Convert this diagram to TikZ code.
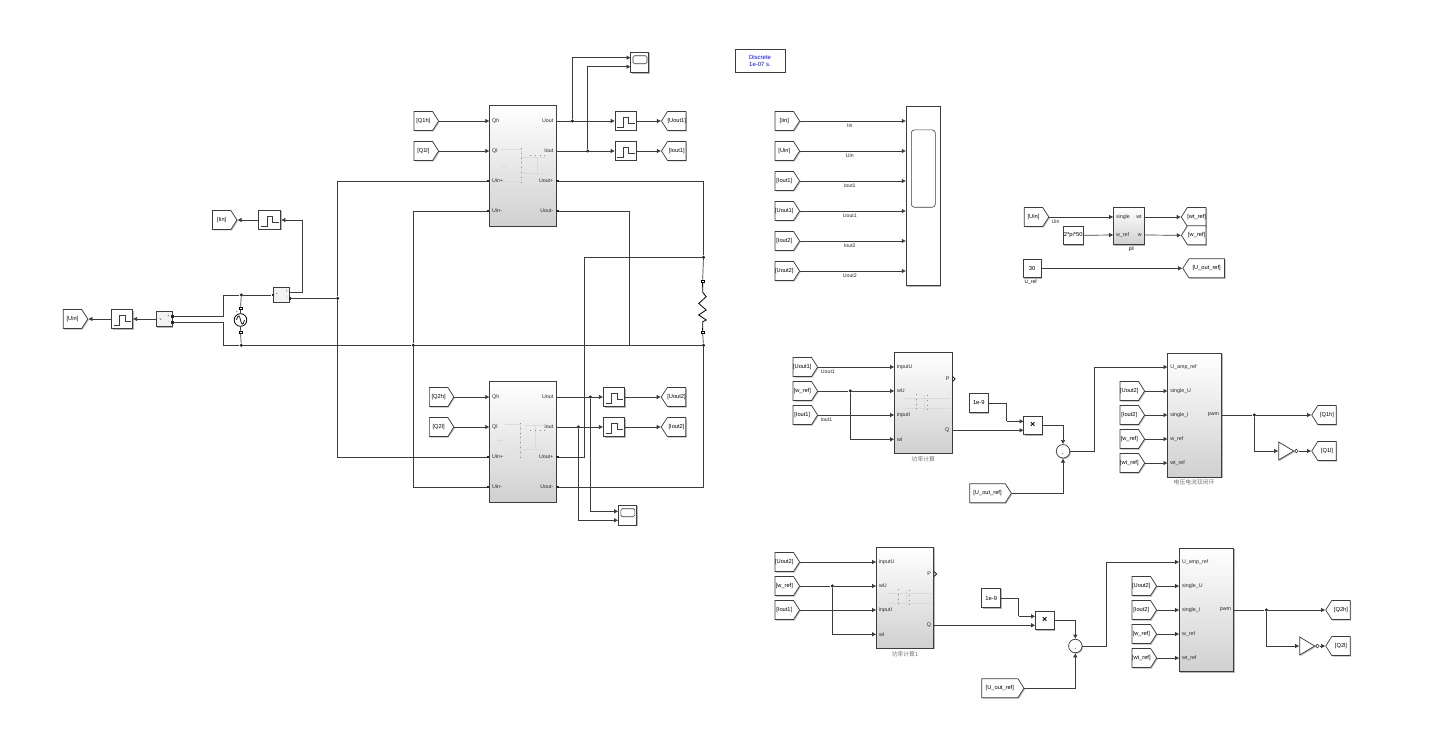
\documentclass[tikz,border=0pt]{standalone}
\usepackage{fontspec}
\setmainfont{Liberation Sans}
\newfontfamily\cjkfont{Noto Sans CJK SC}
\usepackage{tikz}
\usetikzlibrary{arrows.meta,shapes.geometric,shapes.symbols,positioning,calc,shadows}
\definecolor{linecolor}{RGB}{60,60,60}
\definecolor{boxshade}{RGB}{208,208,208}
\tikzset{
  softshadow/.style={drop shadow={shadow xshift=1pt, shadow yshift=-1pt, fill=black!40, opacity=.7}},
  subsys/.style={rectangle, draw=linecolor, line width=.8pt, top color=white, middle color=white, bottom color=boxshade, inner sep=0pt, softshadow},
  plainblk/.style={rectangle, draw=linecolor, line width=.7pt, fill=white, inner sep=0pt, font=\fontsize{5.8}{6.8}\selectfont, softshadow},
  zoh/.style={plainblk, minimum width=21pt, minimum height=19pt, path picture={
    \draw[line width=.7pt, linecolor] ([shift={(-8.5,6.2)}]path picture bounding box.center) -- ++(5.7,0) -- ++(0,-10) -- ++(5.7,0) -- ++(0,6) -- ++(6,0);}},
  screen/.style={rectangle, rounded corners=1.5pt, draw=linecolor, line width=.6pt, fill=white, inner sep=0pt},
  fromtag/.style={signal, signal to=east, signal from=nowhere, signal pointer angle=115, draw=linecolor, line width=.7pt, fill=white,
    minimum height=19pt, minimum width=24.5pt, inner xsep=0pt, inner ysep=0pt, font=\fontsize{5.7}{6.5}\selectfont, softshadow},
  gototag/.style={fromtag, signal to=west},
  pinl/.style={anchor=west, inner xsep=2.5pt, inner ysep=0pt, text=black!85, font=\fontsize{5.3}{6}\selectfont},
  pinr/.style={anchor=east, inner xsep=2.5pt, inner ysep=0pt, text=black!85, font=\fontsize{5.3}{6}\selectfont},
  sglbl/.style={below=2.2pt, inner sep=0pt, text=black!85, font=\fontsize{5.2}{6}\selectfont},
  cjklbl/.style={inner sep=0pt, text=black!55, font=\cjkfont\fontsize{5.8}{6.5}\selectfont},
  mini/.style={inner sep=0pt, text=black!80, font=\fontsize{3.8}{4}\selectfont},
  dotj/.style={circle, fill=black!85, inner sep=0pt, minimum size=3.4pt},
  psq/.style={rectangle, fill=black!85, inner sep=0pt, minimum size=2.6pt},
  opensq/.style={rectangle, draw=black, line width=.6pt, fill=white, inner sep=0pt, minimum size=2.6pt},
  sumblk/.style={circle, draw=linecolor, line width=.7pt, fill=white, inner sep=0pt, minimum size=13.5pt, softshadow},
  notgate/.style={isosceles triangle, isosceles triangle apex angle=63, draw=linecolor, line width=.7pt, fill=white, inner sep=0pt, minimum height=15pt, minimum width=18pt, isosceles triangle stretches, anchor=lower side, softshadow},
  bubble/.style={circle, draw=linecolor, line width=.6pt, fill=white, inner sep=0pt, minimum size=3.6pt},
  myarrow/.style={-{Latex[length=4.2pt,width=4.6pt]}, line width=.7pt, linecolor},
  wire/.style={line width=.7pt, linecolor},
  ghost/.style={line width=.3pt, black!14},
  ghostdot/.style={line width=.6pt, black!45, dash pattern=on .8pt off 4pt},
}

\begin{document}
\begin{tikzpicture}[x=1pt, y=-1pt]
\useasboundingbox (0,0) rectangle (1429,735);

% upper converter
\node[subsys, minimum width=66.5pt, minimum height=120.5pt] (conv1) at (522.7,165.7) {};
\node[pinl] (c1Qh) at (489.5,121) {Qh};
\node[pinl] (c1Ql) at (489.5,151) {Ql};
\node[pinl] (c1Uinp) at (489.5,181) {Uin+};
\node[pinl] (c1Uinm) at (489.5,211) {Uin-};
\node[pinr] (c1Uout) at (556,121) {Uout};
\node[pinr] (c1Iout) at (556,151) {Iout};
\node[pinr] (c1Uoutp) at (556,181) {Uout+};
\node[pinr] (c1Uoutm) at (556,211) {Uout-};
\draw[ghost] (501,149)--(521,149) (521,149)--(521,183) (501,166)--(507,166) (521,157)--(546,157) (537,157)--(537,176) (521,173)--(546,173) (501,181)--(521,181);
\draw[ghostdot] (521,148)--(521,184) (530,155)--(548,155);

\node[fromtag, left=50.5pt of c1Qh.west] (fQ1h) {[Q1h]};
\node[fromtag, left=50.5pt of c1Ql.west] (fQ1l) {[Q1l]};
\node[zoh] (zohU1) at (625.7,121) {};
\node[zoh] (zohI1) at (625.7,151) {};
\node[gototag, right=24.5pt of zohU1] (gU1) {[Uout1]};
\node[gototag, right=24.5pt of zohI1] (gI1) {[Iout1]};
\node[plainblk, minimum width=18pt, minimum height=20.4pt] (scope1) at (639.7,62.5) {};
\node[screen, minimum width=14pt, minimum height=8pt] (scr1) at (640,59.8) {};
\coordinate (sc1a) at (630.7,57.7);
\coordinate (sc1b) at (630.7,66.7);
\node[dotj] (jU1) at (572.3,121) {};
\node[dotj] (jI1) at (587.7,151) {};

% lower converter
\node[subsys, minimum width=66.5pt, minimum height=121pt] (conv2) at (522.7,441.8) {};
\node[pinl] (c2Qh) at (489.5,397) {Qh};
\node[pinl] (c2Ql) at (489.5,427) {Ql};
\node[pinl] (c2Uinp) at (489.5,457) {Uin+};
\node[pinl] (c2Uinm) at (489.5,487) {Uin-};
\node[pinr] (c2Uout) at (556,397) {Uout};
\node[pinr] (c2Iout) at (556,427) {Iout};
\node[pinr] (c2Uoutp) at (556,457) {Uout+};
\node[pinr] (c2Uoutm) at (556,487) {Uout-};
\draw[ghost] (505,424)--(520,424) (520,424)--(520,459) (497,440)--(503,440) (525,425)--(545,425) (535,425)--(535,448) (515,449)--(545,449);
\draw[ghostdot] (520,423)--(520,460) (530,430)--(546,430);

\node[fromtag, left=35.2pt of c2Qh.west] (fQ2h) {[Q2h]};
\node[fromtag, left=35.2pt of c2Ql.west] (fQ2l) {[Q2l]};
\node[zoh] (zohU2) at (614,397) {};
\node[zoh] (zohI2) at (614,427) {};
\node[gototag, right=36pt of zohU2] (gU2) {[Uout2]};
\node[gototag, right=36pt of zohI2] (gI2) {[Iout2]};
\node[plainblk, minimum width=18.4pt, minimum height=20pt] (scope2) at (627.5,515.3) {};
\node[screen, minimum width=14pt, minimum height=8pt] (scr2) at (627.8,512.7) {};
\coordinate (sc2a) at (618.3,511.3);
\coordinate (sc2b) at (618.3,520.3);
\node[dotj] (jU2) at (590.3,397) {};
\node[dotj] (jI2) at (578.3,427) {};

\draw[myarrow] (fQ1h.east) -- (c1Qh.west);
\draw[myarrow] (fQ1l.east) -- (c1Ql.west);
\draw[myarrow] (fQ2h.east) -- (c2Qh.west);
\draw[myarrow] (fQ2l.east) -- (c2Ql.west);
\draw[myarrow] (c1Uout.east) -- (zohU1.west);
\draw[myarrow] (c1Iout.east) -- (zohI1.west);
\draw[myarrow] (zohU1.east) -- (gU1.west);
\draw[myarrow] (zohI1.east) -- (gI1.west);
\draw[myarrow] (jU1) |- (sc1a);
\draw[myarrow] (jI1) |- (sc1b);
\draw[myarrow] (c2Uout.east) -- (zohU2.west);
\draw[myarrow] (c2Iout.east) -- (zohI2.west);
\draw[myarrow] (zohU2.east) -- (gU2.west);
\draw[myarrow] (zohI2.east) -- (gI2.west);
\draw[myarrow] (jU2) |- (sc2a);
\draw[myarrow] (jI2) |- (sc2b);

% power stage
\node[psq] (pUinp1) at (488,181) {};
\node[psq] (pUinm1) at (488,211) {};
\node[psq] (pUoutp1) at (557.3,181) {};
\node[psq] (pUoutm1) at (557.3,211) {};
\node[psq] (pUinp2) at (488,457) {};
\node[psq] (pUinm2) at (488,487) {};
\node[psq] (pUoutp2) at (557.3,457) {};
\node[psq] (pUoutm2) at (557.3,487) {};
\node[dotj] (jA) at (337.7,298.3) {};
\node[dotj] (jB) at (413.3,345.3) {};
\node[dotj] (jD) at (703.5,257.3) {};
\node[dotj] (jE) at (703.5,345.3) {};
\node[dotj] (jG) at (241.3,295) {};
\node[dotj] (jH) at (241.3,345.3) {};
\coordinate (cU1) at (629.5,345.3);
\coordinate (cU2) at (584.5,257.3);
\coordinate (cSrcT) at (223.3,295);
\coordinate (cSrcB) at (223.3,345.3);

% source and measurements
\node[circle, draw=black, line width=.8pt, fill=white, inner sep=0pt, minimum size=12.6pt, path picture={
  \draw[line width=.7pt] ([xshift=-4pt]path picture bounding box.center) .. controls +(1.5,-6) and +(-1,-5) .. ([xshift=0pt]path picture bounding box.center) .. controls +(1,5) and +(-1.5,6) .. ([xshift=4pt]path picture bounding box.center);}] (acsrc) at (240.5,320) {};
\node[opensq] (srcT) at (240.5,308.3) {};
\node[opensq] (srcB) at (240.5,332.3) {};
\node[mini] (srcPlus) at (237,312) {+};
\node[plainblk, fill=black!5, minimum width=15.7pt, minimum height=15pt] (cmeas) at (281.2,294.8) {};
\node[mini] (cmP) at (277,294.8) {+};
\node[mini] (cmI) at (286.7,291.6) {i};
\node[mini] (cmN) at (286.7,297.8) {-};
\node[plainblk, fill=black!5, minimum width=15.7pt, minimum height=15.4pt] (vmeas) at (164.2,319) {};
\node[mini] (vmV) at (160.5,319.5) {v};
\node[mini] (vmP) at (168.5,316) {+};
\node[mini] (vmN) at (168.5,322) {-};
\node[psq] (cmL) at (272.8,295) {};
\node[psq] (cmR) at (289.8,298.3) {};
\node[psq] (vmA) at (172.4,316.3) {};
\node[psq] (vmB) at (172.4,322.3) {};
\coordinate (cmOut) at (289,292.3);
\coordinate (cIin) at (302.3,220);
\node[zoh, minimum width=22pt] (zohIin) at (269.7,220) {};
\node[gototag, signal to=east, left=21pt of zohIin] (gIin) {[Iin]};
\node[zoh] (zohUin) at (122,319) {};
\node[gototag, signal to=east, left=23pt of zohUin] (gUin) {[Uin]};

\draw[wire] (pUinp1) -| (jA);
\draw[wire] (jA) |- (pUinp2);
\draw[wire] (cmR) -- (jA);
\draw[wire] (pUinm1) -| (jB);
\draw[wire] (jB) |- (pUinm2);
\draw[wire] (pUoutp1) -| (jD);
\draw[wire] (pUoutm1) -| (cU1) -- (jE);
\draw[wire] (pUoutp2) -| (cU2) -- (jD);
\draw[wire] (pUoutm2) -| (jE);
\draw[wire] (vmA) -| (cSrcT) -- (jG) -- (cmL);
\draw[wire] (vmB) -| (cSrcB) -- (jH) -- (jB) -- (jE);
\draw[wire] (jG) -- (srcT) -- (acsrc) -- (srcB) -- (jH);
\draw[myarrow] (cmOut) -| (cIin) -- (zohIin.east);
\draw[myarrow] (zohIin.west) -- (gIin.east);
\draw[myarrow] (vmeas.west) -- (zohUin.east);
\draw[myarrow] (zohUin.west) -- (gUin.east);

% load
\node[opensq] (loadT) at (702.6,281.3) {};
\node[opensq] (loadB) at (702.6,332.3) {};
\node[circle, fill=red, inner sep=0pt, minimum size=1.2pt] (loadRed) at (702.6,286.7) {};
\draw[wire] (jD) -- (loadT);
\draw[wire] (loadB) -- (jE);
\draw[line width=.8pt, black] (loadT) -- (702.7,292.3) -- (706.2,296.7) -- (698.7,303.5) -- (706.2,310) -- (698.7,315) -- (706.2,320) -- (702.7,321.7) -- (loadB);

% solver block
\node[plainblk, minimum width=50pt, minimum height=23.5pt, align=center, text=blue, font=\fontsize{6}{7}\selectfont] (solver) at (760,60.7) {Discrete\\1e-07 s.};

% measurement scope
\node[plainblk, minimum width=33.7pt, minimum height=179.4pt] (bigscope) at (923.2,196) {};
\node[screen, rounded corners=3pt, minimum width=24pt, minimum height=77.3pt] (bigscr) at (923.3,168.6) {};
\node[fromtag] (fIin) at (784.3,121) {[Iin]};
\node[fromtag] (fUin) at (784.3,151) {[Uin]};
\node[fromtag] (fIout1) at (784.3,181) {[Iout1]};
\node[fromtag] (fUout1) at (784.3,211) {[Uout1]};
\node[fromtag] (fIout2) at (784.3,241) {[Iout2]};
\node[fromtag] (fUout2) at (784.3,271) {[Uout2]};
\draw[myarrow] (fIin.east) -- node[sglbl, pos=.47] (sIin) {Iin} (fIin.east -| bigscope.west);
\draw[myarrow] (fUin.east) -- node[sglbl, pos=.47] (sUin) {Uin} (fUin.east -| bigscope.west);
\draw[myarrow] (fIout1.east) -- node[sglbl, pos=.47] (sIout1) {Iout1} (fIout1.east -| bigscope.west);
\draw[myarrow] (fUout1.east) -- node[sglbl, pos=.47] (sUout1) {Uout1} (fUout1.east -| bigscope.west);
\draw[myarrow] (fIout2.east) -- node[sglbl, pos=.47] (sIout2) {Iout2} (fIout2.east -| bigscope.west);
\draw[myarrow] (fUout2.east) -- node[sglbl, pos=.47] (sUout2) {Uout2} (fUout2.east -| bigscope.west);

% pll and reference
\node[subsys, minimum width=31pt, minimum height=37pt] (pll) at (1128.8,226.2) {};
\node[pinl] (pllS) at (1113.3,217) {single};
\node[pinl] (pllW) at (1113.3,235) {w\_ref};
\node[pinr] (pllwt) at (1144.3,217) {wt};
\node[pinr] (pllw) at (1144.3,235) {w};
\node[inner sep=0pt, font=\fontsize{5}{6}\selectfont] (pllname) at (1131.3,249.6) {pll};
\node[fromtag] (fUinP) at (1033.5,217) {[Uin]};
\node[plainblk, minimum width=20pt, minimum height=18.7pt] (twopi) at (1073.3,235.3) {2*pi*50};
\node[gototag] (gwt) at (1196.7,217) {[wt\_ref]};
\node[gototag] (gw) at (1196.7,235.3) {[w\_ref]};
\node[plainblk, minimum width=17.7pt, minimum height=18.7pt] (urefc) at (1032.2,268.3) {30};
\node[inner sep=0pt, font=\fontsize{5}{6}\selectfont] (urefname) at (1030.7,282.6) {U\_ref};
\node[gototag, minimum width=41.7pt] (gUref) at (1206.7,268.3) {[U\_out\_ref]};
\draw[myarrow] (fUinP.east) -- node[sglbl, pos=.1] (sUinP) {Uin} (pllS.west);
\draw[myarrow] (twopi.east) -- (pllW.west);
\draw[myarrow] (pllwt.east) -- (gwt.west);
\draw[myarrow] (pllw.east) -- (gw.west);
\draw[myarrow] (urefc.east) -- (gUref.west);

% first power calculation and control loop
\node[subsys, minimum width=57.7pt, minimum height=101pt] (pow1) at (923.2,402.8) {};
\node[pinl] (p1a) at (894.3,367) {inputU};
\node[pinl] (p1b) at (894.3,391) {wU};
\node[pinl] (p1c) at (894.3,415) {inputI};
\node[pinl] (p1d) at (894.3,439.3) {wI};
\node[pinr] (p1P) at (952,379) {P};
\node[pinr] (p1Q) at (952,430.3) {Q};
\node[cjklbl] (pow1name) at (923.3,459) {功率计算};
\draw[line width=.7pt, black] (952.6,376.6) -- (955,379) -- (952.6,381.4);
\draw[ghost] (905,398)--(950,398) (905,408)--(950,408) (916,398)--(916,408) (924,395)--(924,411);
\draw[ghostdot] (916,394)--(916,412) (927,395)--(927,411);
\node[fromtag] (fU1a) at (802.3,367) {[Uout1]};
\node[fromtag] (fw1) at (802.3,391) {[w\_ref]};
\node[fromtag] (fI1a) at (802.3,415) {[Iout1]};
\node[dotj] (jw1) at (850.3,391) {};
\node[plainblk, minimum width=19pt, minimum height=19.4pt] (gain1) at (978.8,403) {1e-9};
\node[plainblk, minimum width=18.3pt, minimum height=18.7pt, font=\bfseries\fontsize{9}{9}\selectfont] (prod1) at (1032.8,425.3) {×};
\node[sumblk] (sum1) at (1063,451.3) {};
\node[mini] (sum1m) at (1063,448.4) {-};
\node[mini] (sum1p) at (1063,454.6) {+};
\node[fromtag, minimum width=41.6pt] (fUr1) at (987.5,493.2) {[U\_out\_ref]};
\coordinate (g1in) at (1023.7,421.3);
\coordinate (q1in) at (1023.7,430.3);
\coordinate (g1mid) at (1006.7,421.3);
\coordinate (s1up) at (1094.7,367);
\draw[myarrow] (fU1a.east) -- node[sglbl, pos=.13] (sU1a) {Uout1} (p1a.west);
\draw[wire] (fw1.east) -- (jw1);
\draw[myarrow] (jw1) -- (p1b.west);
\draw[myarrow] (fI1a.east) -- node[sglbl, pos=.11] (sI1a) {Iout1} (p1c.west);
\draw[myarrow] (jw1) |- (p1d.west);
\draw[wire] (gain1.east) -| (g1mid);
\draw[myarrow] (g1mid) -- (g1in);
\draw[myarrow] (p1Q.east) -- (q1in);
\draw[myarrow] (prod1.east) -| (sum1.north);
\draw[myarrow] (fUr1.east) -| (sum1.south);

\node[subsys, minimum width=54pt, minimum height=123.7pt] (loop1) at (1194.7,415.2) {};
\node[pinl] (l1a) at (1167.7,367) {U\_amp\_ref};
\node[pinl] (l1b) at (1167.7,391) {single\_U};
\node[pinl] (l1c) at (1167.7,415) {single\_I};
\node[pinl] (l1d) at (1167.7,439) {w\_ref};
\node[pinl] (l1e) at (1167.7,463) {wt\_ref};
\node[pinr] (l1p) at (1221.7,415) {pwm};
\node[cjklbl] (loop1name) at (1194,482) {电压电流双闭环};
\node[fromtag] (fU2b) at (1129.3,391) {[Uout2]};
\node[fromtag] (fI2b) at (1129.3,415) {[Iout2]};
\node[fromtag] (fw1b) at (1129.3,439) {[w\_ref]};
\node[fromtag] (fwt1) at (1129.3,463) {[wt\_ref]};
\node[dotj] (jp1) at (1254.3,415) {};
\node[notgate] (not1) at (1278.3,451) {};
\node[bubble, right=0pt of not1.apex] (bub1) {};
\node[gototag] (gQ1h) at (1327,415) {[Q1h]};
\node[gototag] (gQ1l) at (1327,451) {[Q1l]};
\draw[myarrow] (sum1.east) -| (s1up) -- (l1a.west);
\draw[myarrow] (fU2b.east) -- (l1b.west);
\draw[myarrow] (fI2b.east) -- (l1c.west);
\draw[myarrow] (fw1b.east) -- (l1d.west);
\draw[myarrow] (fwt1.east) -- (l1e.west);
\draw[wire] (l1p.east) -- (jp1);
\draw[myarrow] (jp1) -- (gQ1h.west);
\draw[myarrow] (jp1) |- (not1.lower side);
\draw[myarrow] (bub1.east) -- (gQ1l.west);

% second power calculation and control loop
\node[subsys, minimum width=57.4pt, minimum height=101pt] (pow2) at (905,597.8) {};
\node[pinl] (p2a) at (876.3,562) {inputU};
\node[pinl] (p2b) at (876.3,586) {wU};
\node[pinl] (p2c) at (876.3,610) {inputI};
\node[pinl] (p2d) at (876.3,634.3) {wI};
\node[pinr] (p2P) at (933.7,574) {P};
\node[pinr] (p2Q) at (933.7,625.3) {Q};
\node[cjklbl] (pow2name) at (905,654) {功率计算1};
\draw[line width=.7pt, black] (934.3,571.6) -- (936.7,574) -- (934.3,576.4);
\draw[ghost] (887,593)--(932,593) (887,603)--(932,603) (898,593)--(898,603) (906,590)--(906,606);
\draw[ghostdot] (898,589)--(898,607) (909,590)--(909,606);
\node[fromtag] (fU2a) at (784.3,562) {[Uout2]};
\node[fromtag] (fw2) at (784.3,586) {[w\_ref]};
\node[fromtag] (fI1b) at (784.3,610) {[Iout1]};
\node[dotj] (jw2) at (832.3,586) {};
\node[plainblk, minimum width=19pt, minimum height=19.4pt] (gain2) at (991.2,598) {1e-9};
\node[plainblk, minimum width=18.7pt, minimum height=18.7pt, font=\bfseries\fontsize{9}{9}\selectfont] (prod2) at (1044.7,620.3) {×};
\node[sumblk] (sum2) at (1075.3,646) {};
\node[mini] (sum2m) at (1075.3,643.1) {-};
\node[mini] (sum2p) at (1075.3,649.3) {+};
\node[fromtag, minimum width=42.3pt] (fUr2) at (999.8,688.2) {[U\_out\_ref]};
\coordinate (g2in) at (1035.3,616.3);
\coordinate (q2in) at (1035.3,625.3);
\coordinate (g2mid) at (1018.7,616.3);
\coordinate (s2up) at (1106.3,562);
\draw[myarrow] (fU2a.east) -- (p2a.west);
\draw[wire] (fw2.east) -- (jw2);
\draw[myarrow] (jw2) -- (p2b.west);
\draw[myarrow] (fI1b.east) -- (p2c.west);
\draw[myarrow] (jw2) |- (p2d.west);
\draw[wire] (gain2.east) -| (g2mid);
\draw[myarrow] (g2mid) -- (g2in);
\draw[myarrow] (p2Q.east) -- (q2in);
\draw[myarrow] (prod2.east) -| (sum2.north);
\draw[myarrow] (fUr2.east) -| (sum2.south);

\node[subsys, minimum width=54.4pt, minimum height=123.4pt] (loop2) at (1206.5,610) {};
\node[pinl] (l2a) at (1179.3,562) {U\_amp\_ref};
\node[pinl] (l2b) at (1179.3,586) {single\_U};
\node[pinl] (l2c) at (1179.3,610) {single\_I};
\node[pinl] (l2d) at (1179.3,634) {w\_ref};
\node[pinl] (l2e) at (1179.3,658) {wt\_ref};
\node[pinr] (l2p) at (1233.7,610) {pwm};
\node[fromtag] (fU2c) at (1141.3,586) {[Uout2]};
\node[fromtag] (fI2c) at (1141.3,610) {[Iout2]};
\node[fromtag] (fw2b) at (1141.3,634) {[w\_ref]};
\node[fromtag] (fwt2) at (1141.3,658) {[wt\_ref]};
\node[dotj] (jp2) at (1266.3,610) {};
\node[notgate] (not2) at (1299.3,646) {};
\node[bubble, right=0pt of not2.apex] (bub2) {};
\node[gototag] (gQ2h) at (1341,610) {[Q2h]};
\node[gototag] (gQ2l) at (1341,646) {[Q2l]};
\draw[myarrow] (sum2.east) -| (s2up) -- (l2a.west);
\draw[myarrow] (fU2c.east) -- (l2b.west);
\draw[myarrow] (fI2c.east) -- (l2c.west);
\draw[myarrow] (fw2b.east) -- (l2d.west);
\draw[myarrow] (fwt2.east) -- (l2e.west);
\draw[wire] (l2p.east) -- (jp2);
\draw[myarrow] (jp2) -- (gQ2h.west);
\draw[myarrow] (jp2) |- (not2.lower side);
\draw[myarrow] (bub2.east) -- (gQ2l.west);

\end{tikzpicture}
\end{document}
